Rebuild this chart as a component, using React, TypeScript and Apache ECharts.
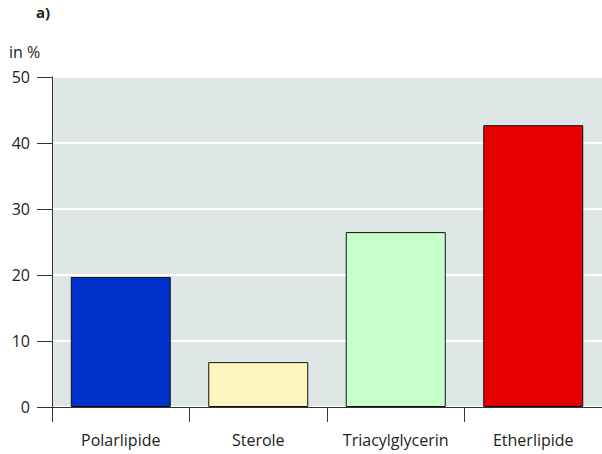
import React, { useEffect, useRef } from "react";
import * as echarts from "echarts";

const categories = ["Polarlipide", "Sterole", "Triacylglycerin", "Etherlipide"];
const values = [19.7, 6.8, 26.5, 42.7];
const barColors = ["#0033cc", "#fff5c0", "#c6ffca", "#e60000"];
const yTicks = { min: 0, max: 50, interval: 10 };

export default function App() {
  const ref = useRef<HTMLDivElement>(null);
  useEffect(() => {
    document.body.style.margin = "0";
    const chart = echarts.init(ref.current!, null, { renderer: "svg" });
    const font = "'Open Sans', sans-serif";
    chart.setOption({
      animation: false,
      textStyle: { fontFamily: font },
      grid: {
        left: 52,
        top: 77,
        right: -3,
        bottom: 47,
        show: true,
        backgroundColor: "#dfe6e6",
        borderWidth: 0,
      },
      graphic: [
        { type: "text", left: 36, top: 4, style: { text: "a)", font: `bold 15px ${font}`, fill: "#222" } },
        { type: "text", left: 9, top: 44, style: { text: "in %", font: `16px ${font}`, fill: "#222" } },
      ],
      xAxis: {
        type: "category",
        data: categories,
        axisLine: { show: true, lineStyle: { color: "#333", width: 1 } },
        axisTick: { show: true, interval: 0, length: 15, lineStyle: { color: "#333" } },
        axisLabel: { interval: 0, hideOverlap: false, margin: 25, fontSize: 16, color: "#222", fontFamily: font },
        splitLine: { show: false },
      },
      yAxis: {
        type: "value",
        min: yTicks.min,
        max: yTicks.max,
        interval: yTicks.interval,
        axisLine: { show: true, lineStyle: { color: "#333", width: 1 } },
        axisTick: { show: true, length: 15, lineStyle: { color: "#333" } },
        axisLabel: { margin: 22, fontSize: 16, color: "#222", fontFamily: font },
        splitLine: { show: true, lineStyle: { color: "#ffffff", width: 2 } },
      },
      series: [
        {
          type: "bar",
          barWidth: 100,
          data: values.map((v, i) => ({
            value: v,
            itemStyle: { color: barColors[i], borderColor: "#111", borderWidth: 1 },
          })),
        },
      ],
    });
    return () => chart.dispose();
  }, []);
  return <div ref={ref} style={{ width: 602, height: 454, position: "absolute", left: 0, top: 0 }} />;
}
